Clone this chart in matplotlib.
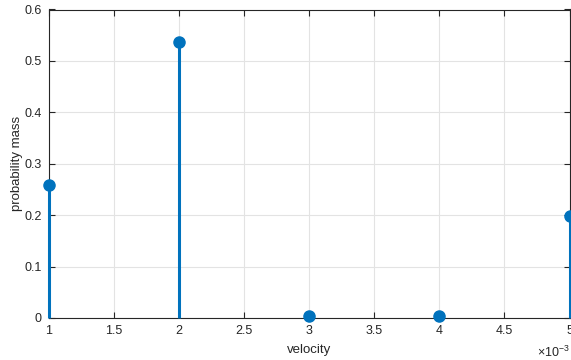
import matplotlib
matplotlib.use("Agg")
import matplotlib.pyplot as plt
from matplotlib.ticker import MultipleLocator, FuncFormatter

velocity = [0.001, 0.002, 0.003, 0.004, 0.005]
prob_mass = [0.258, 0.537, 0.003, 0.003, 0.199]
x_label = "velocity"
y_label = "probability mass"

plt.rcParams['font.family'] = ['Liberation Sans', 'DejaVu Sans']
plt.rcParams['mathtext.fontset'] = 'custom'
plt.rcParams['mathtext.rm'] = 'Liberation Sans'
plt.rcParams['mathtext.it'] = 'Liberation Sans'

fig = plt.figure(figsize=(5.71, 3.6), dpi=100)
ax = fig.add_axes([48.5/571, 42/360, 521/571, 308.5/360])

color = '#0072BD'
dark = '#262626'
for xv, yv in zip(velocity, prob_mass):
    ax.plot([xv, xv], [0, yv], color=color, lw=2.2, solid_capstyle='butt', clip_on=False, zorder=3)
ax.plot(velocity, prob_mass, 'o', color=color, ms=8, clip_on=False, zorder=4)

ax.set_xlim(0.001, 0.005)
ax.set_ylim(0, 0.6)
ax.xaxis.set_major_locator(MultipleLocator(0.0005))
ax.yaxis.set_major_locator(MultipleLocator(0.1))
ax.xaxis.set_major_formatter(FuncFormatter(lambda v, p: f"{v*1000:g}"))
ax.yaxis.set_major_formatter(FuncFormatter(lambda v, p: f"{v:g}"))

ax.grid(True, color='#e3e3e3', lw=0.8)
ax.set_axisbelow(True)
ax.tick_params(direction='in', length=4, width=0.8, top=True, right=True,
               colors=dark, labelsize=9, pad=5)
for s in ax.spines.values():
    s.set_color(dark)
    s.set_linewidth(0.8)

ax.set_xlabel(x_label, fontsize=9.5, color=dark, labelpad=5)
ax.set_ylabel(y_label, fontsize=9.5, color=dark, labelpad=1)

fig.text(570/571, 1 - 352/360, r'$\times10^{-3}$', ha='right', va='center',
         fontsize=9, color=dark)

fig.savefig("out.png", dpi=100)
